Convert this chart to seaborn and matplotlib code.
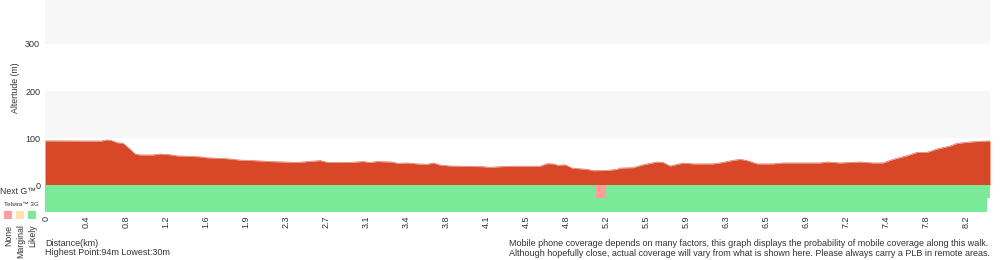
import matplotlib
matplotlib.use("Agg")
import matplotlib.pyplot as plt
import seaborn as sns
from matplotlib.patches import Rectangle

# ---------------- data ----------------
sample_idx = [0, 14, 15.4, 16.5, 18, 19.5, 21.25, 22.5, 23.75, 27, 28.75, 31.25, 33,
              38.75, 40.4, 45.5, 48.75, 52, 56.25, 63, 65.75, 68.75, 70.75, 76.25,
              79.5, 81.25, 83, 86.75, 88.25, 90.5, 93, 95.5, 97, 98.75, 101.25,
              109.5, 111.25, 113.75, 117, 123.75, 125.5, 127, 128.25, 130, 131.75,
              135.5, 137, 140.5, 143, 143.75, 147, 149.5, 153, 154.5, 156.25, 159.5,
              162, 167, 168.75, 172, 173.75, 175.5, 178, 182, 184.5, 193.75, 195.5,
              198.75, 203.75, 207, 209.5, 212, 215.5, 218, 220.5, 223, 226.25, 228,
              232, 236.25]
elevation_m = [94, 93.5, 96, 95, 90, 89, 76, 66, 64, 64, 66, 64.5, 62,
               60, 58, 56, 53, 52, 50, 48, 50, 52, 48, 48,
               50, 48, 50, 49, 46, 47, 45, 44, 47, 42.5, 40.5,
               39, 37.6, 39, 40, 40, 45.4, 45, 42, 43, 36,
               33.3, 30.5, 31, 33.3, 36, 37, 43, 49, 48, 40.4, 46.8,
               45, 45, 47, 52.5, 54.6, 52, 45, 45, 47, 47, 49,
               47, 49, 47, 47, 54.6, 62.4, 69.5, 69.5, 76.6, 83, 88.7,
               92, 94]

tick_idx = [0.25, 10.25, 20.25, 30.25, 40.25, 50.25, 60.25, 70.25, 80.25, 90.25,
            100.25, 110.25, 120.25, 130.25, 140.25, 150.25, 160.25, 170.25, 180.25,
            190.25, 200.25, 210.25, 220.25, 230.25]
tick_labels = ["0", "0.4", "0.8", "1.2", "1.6", "1.9", "2.3", "2.7", "3.1", "3.4",
               "3.8", "4.1", "4.5", "4.8", "5.2", "5.5", "5.9", "6.3", "6.5", "6.9",
               "7.2", "7.4", "7.8", "8.2"]
y_ticks = [0, 100, 200, 300]

# coverage segments: (start, end, level)
nextg_start = [0, 137.75, 140.25]
nextg_end = [137.75, 140.25, 236.25]
nextg_level = ["Likely", "None", "Likely"]
tel3g_start = [0]
tel3g_end = [235.6]
tel3g_level = ["Likely"]

legend_levels = ["None", "Marginal", "Likely"]
level_colors = {"None": "#ff9c9c", "Marginal": "#ffe3a8", "Likely": "#7bea98"}

highest, lowest = 94, 30
RED = "#d84727"
TXT = "#333333"

# ---------------- figure ----------------
sns.set_theme(style="white")
plt.rcParams["font.family"] = ["Liberation Sans", "DejaVu Sans"]

fig = plt.figure(figsize=(10, 2.6), dpi=100)
ax = fig.add_axes([0.045, 1 - 212 / 260, 0.945, 212 / 260])

ax.set_xlim(0, 236.25)
ax.set_ylim(-57.4, 393.6)

# background bands
ax.axhspan(100, 200, color="#f7f7f7", zorder=0, lw=0)
ax.axhspan(300, 400, color="#f7f7f7", zorder=0, lw=0)

# elevation profile
ax.fill_between(sample_idx, 0, elevation_m, color=RED, lw=0, zorder=2)
sns.lineplot(x=sample_idx, y=elevation_m, color="#e27258", lw=0.5, ax=ax, zorder=3,
             sort=False)

# coverage rows
row_top = [0, -27.5]
row_bot = [-27.5, -57.4]
for (starts, ends, levels), top, bot in zip(
        [(nextg_start, nextg_end, nextg_level), (tel3g_start, tel3g_end, tel3g_level)],
        row_top, row_bot):
    for s, e, lv in zip(starts, ends, levels):
        ax.barh(y=(top + bot) / 2, width=e - s, left=s, height=top - bot,
                color=level_colors[lv], lw=0, zorder=2)

for sp in ax.spines.values():
    sp.set_visible(False)

ax.set_yticks(y_ticks)
ax.set_yticklabels([str(v) for v in y_ticks], fontsize=6.5, color=TXT)
ax.set_xticks(tick_idx)
ax.set_xticklabels(tick_labels, rotation=90, fontsize=6.5, color=TXT)
ax.tick_params(axis="y", length=0, pad=3.5)
ax.tick_params(axis="x", length=0, pad=2.6)
ax.set_xlabel("")
ax.set_ylabel("")
for lbl in ax.get_xticklabels():
    lbl.set_verticalalignment("top")

# labels
fig.text(16 / 1000, 1 - 88 / 260, "Altertude (m)", rotation=90, fontsize=6.3,
         ha="center", va="center", color=TXT)
fig.text(0 / 1000, 1 - 191 / 260, "Next G\u2122", fontsize=6.3, ha="left", va="center",
         color=TXT)
fig.text(4 / 1000, 1 - 204 / 260, "Telstra\u2122 3G", fontsize=4.5, ha="left", va="center",
         color=TXT)

leg_x = [4, 16, 28]
for lv, x0 in zip(legend_levels, leg_x):
    fig.patches.append(Rectangle((x0 / 1000, 1 - 218.5 / 260), 8.3 / 1000, 7.5 / 260,
                                 transform=fig.transFigure, color=level_colors[lv],
                                 lw=0))
    fig.text((x0 + 4.5) / 1000, 1 - 224.5 / 260, lv, rotation=90, fontsize=6.3,
             ha="center", va="top", color=TXT)

fig.text(45 / 1000, 1 - 243 / 260, "Distance(km)", fontsize=6.5, ha="left", va="center",
         color=TXT)
fig.text(45 / 1000, 1 - 252.5 / 260, f"Highest Point:{highest}m Lowest:{lowest}m",
         fontsize=6.5, ha="left", va="center", color=TXT)
fig.text(509 / 1000, 1 - 243 / 260,
         "Mobile phone coverage depends on many factors, this graph displays the probability of mobile coverage along this walk.",
         fontsize=6.5, ha="left", va="center", color=TXT)
fig.text(509 / 1000, 1 - 253 / 260,
         "Although hopefully close, actual coverage will vary from what is shown here. Please always carry a PLB in remote areas.",
         fontsize=6.5, ha="left", va="center", color=TXT)

fig.savefig("out.png", dpi=100)
